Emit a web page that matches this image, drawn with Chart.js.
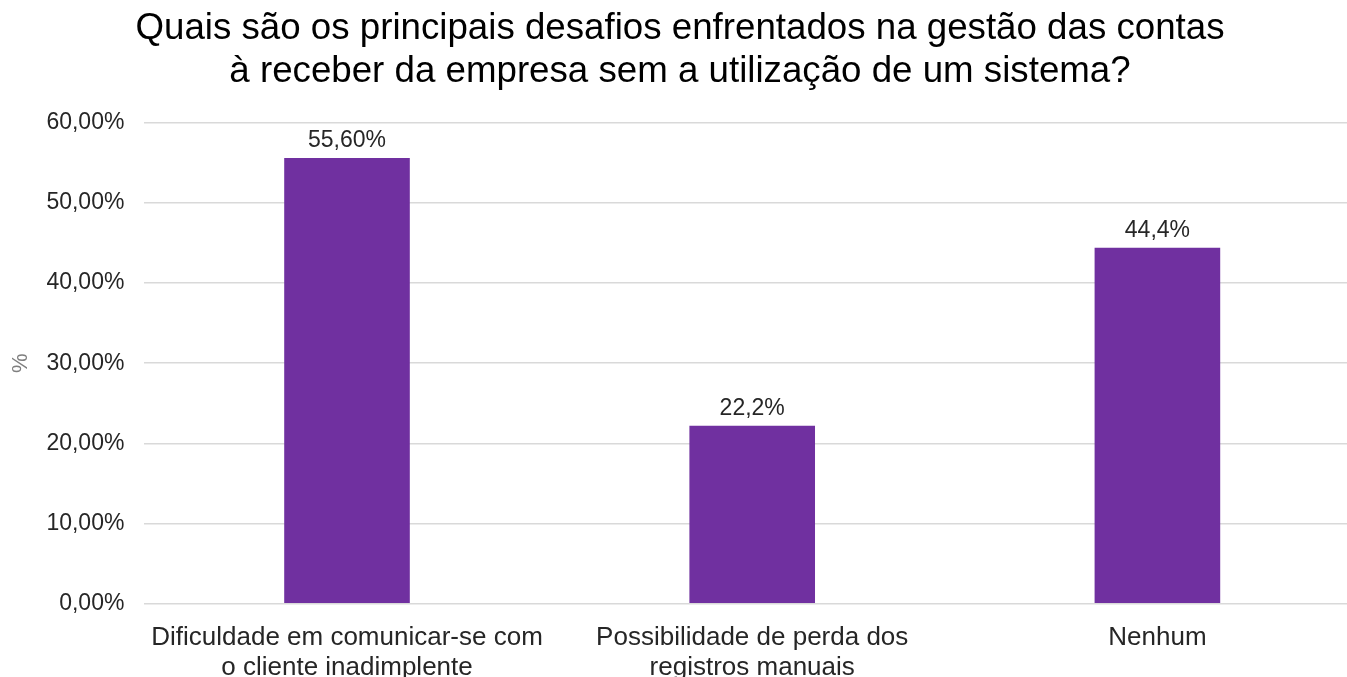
<!DOCTYPE html>
<html>
<head>
<meta charset="utf-8">
<script src="https://cdn.jsdelivr.net/npm/chart.js@4/dist/chart.umd.min.js"></script>
<style>
  html, body { margin: 0; padding: 0; background: #fff; overflow: hidden; }
  #wrap { width: 1347px; height: 677px; overflow: hidden; }
</style>
</head>
<body>
<div id="wrap"><canvas id="chart" width="1360" height="702"></canvas></div>
<script>
// Chart data
const categories = [
    ['Dificuldade em comunicar-se com', 'o cliente inadimplente'],
    ['Possibilidade de perda dos', 'registros manuais'],
    'Nenhum'
];
const values = [55.6, 22.2, 44.4];
const valueLabels = ['55,60%', '22,2%', '44,4%'];
const titleLines = [
    'Quais são os principais desafios enfrentados na gestão das contas',
    'à receber da empresa sem a utilização de um sistema?'
];

const FONT = "'Liberation Sans', Arial, sans-serif";

// Draw value labels above bars
const barLabels = {
    id: 'barLabels',
    afterDatasetsDraw(chart) {
        const ctx = chart.ctx;
        const meta = chart.getDatasetMeta(0);
        ctx.save();
        ctx.font = '23px ' + FONT;
        ctx.fillStyle = '#262626';
        ctx.textAlign = 'center';
        ctx.textBaseline = 'bottom';
        meta.data.forEach((bar, i) => {
            ctx.fillText(valueLabels[i], bar.x, bar.y - 6);
        });
        ctx.restore();
    }
};

const ctx = document.getElementById('chart').getContext('2d');
new Chart(ctx, {
    type: 'bar',
    data: {
        labels: categories,
        datasets: [{
            data: values,
            backgroundColor: '#7030A0',
            barPercentage: 0.62,
            categoryPercentage: 0.5
        }]
    },
    options: {
        responsive: false,
        animation: false,
        layout: { padding: 0 },
        plugins: {
            legend: { display: false },
            tooltip: { enabled: false },
            title: {
                display: true,
                text: titleLines,
                color: '#000',
                font: { family: FONT, size: 36.7, weight: 'normal', lineHeight: 1.16 },
                padding: { top: 8, bottom: 29.5 }
            }
        },
        scales: {
            x: {
                grid: { display: false, drawTicks: false },
                border: { display: false },
                ticks: {
                    color: '#262626',
                    font: { family: FONT, size: 26, lineHeight: 1.12 },
                    padding: 20,
                    maxRotation: 0,
                    autoSkip: false
                }
            },
            y: {
                min: 0,
                max: 60,
                grid: { color: '#d9d9d9', lineWidth: 1.5, drawTicks: false },
                border: { display: false },
                ticks: {
                    stepSize: 10,
                    color: '#262626',
                    padding: 20,
                    font: { family: FONT, size: 23 },
                    callback: v => v.toFixed(2).replace('.', ',') + '%'
                },
                title: {
                    display: true,
                    text: '%',
                    color: '#7f7f7f',
                    font: { family: FONT, size: 22 },
                    padding: { top: 8, bottom: -8 }
                }
            }
        }
    },
    plugins: [barLabels]
});
</script>
</body>
</html>
